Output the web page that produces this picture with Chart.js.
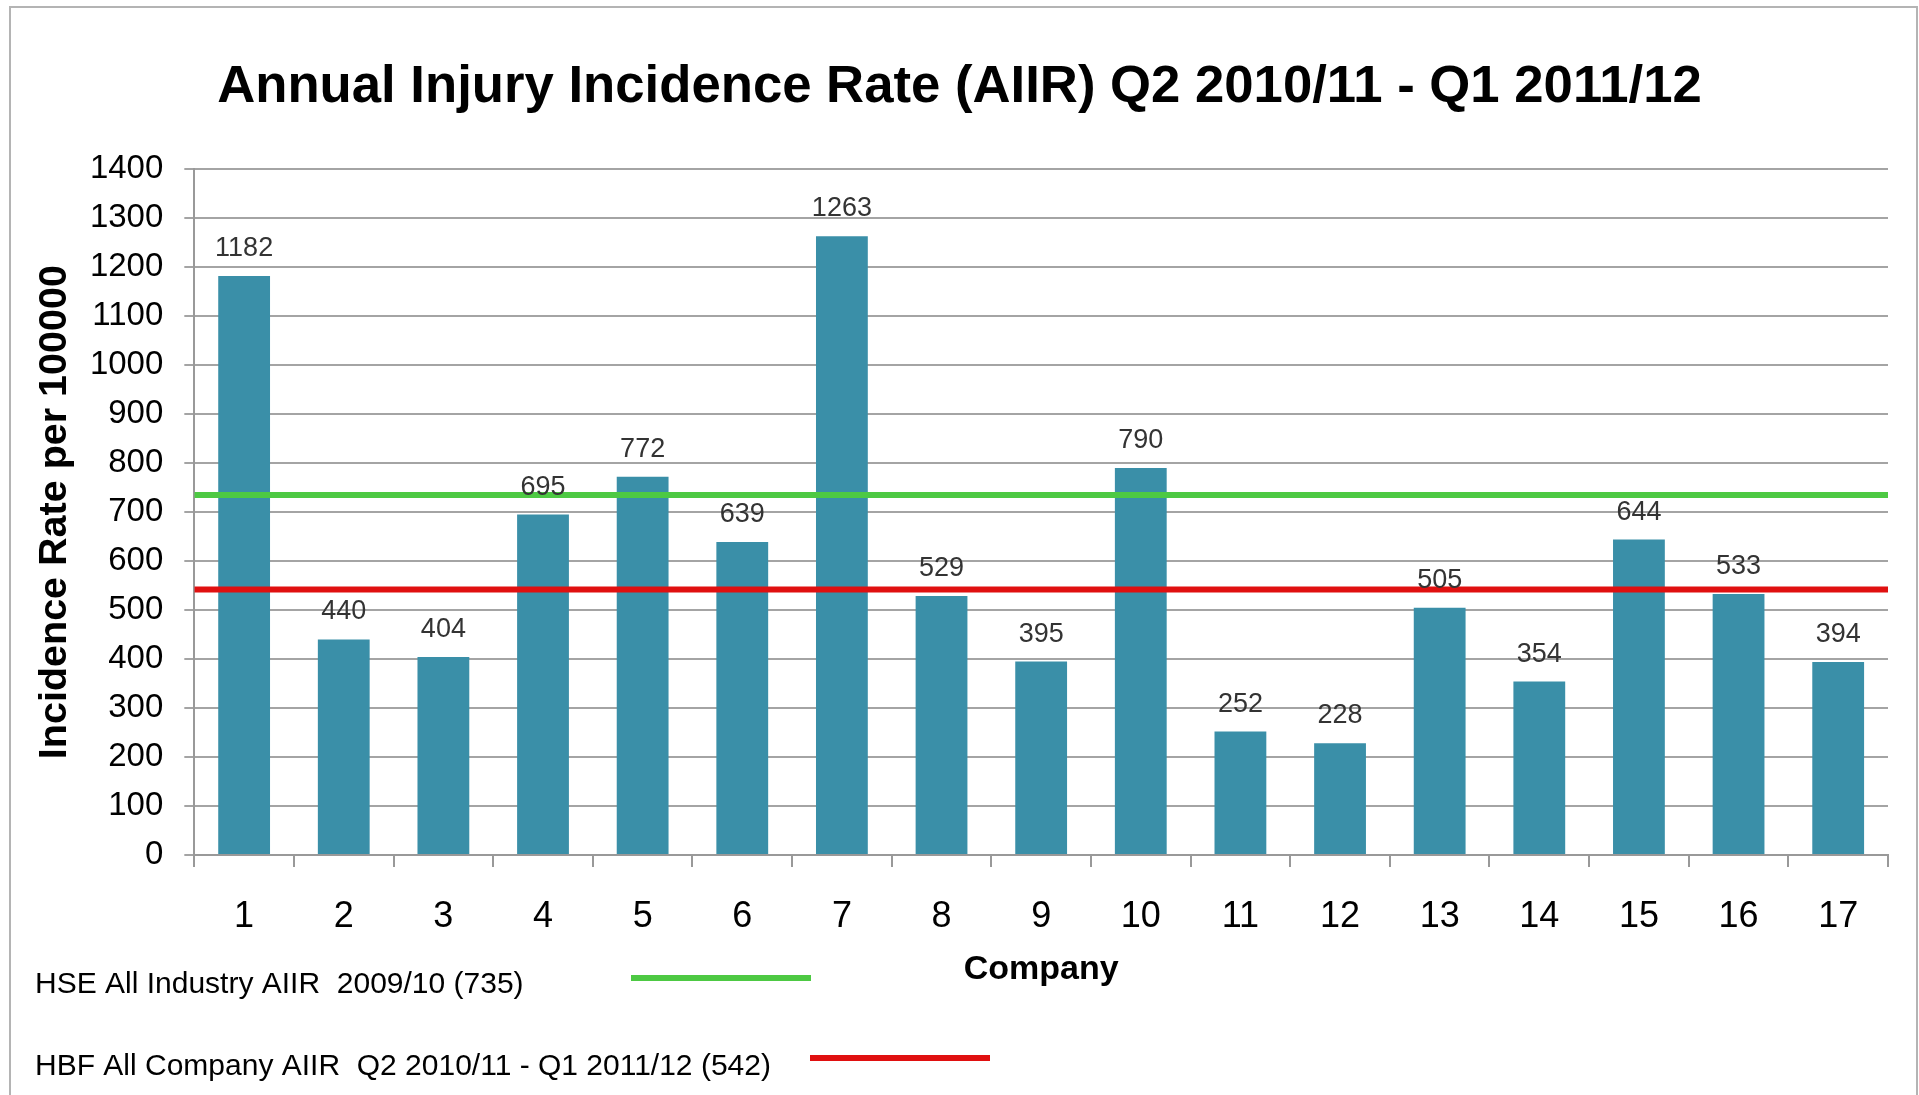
<!DOCTYPE html>
<html>
<head>
<meta charset="utf-8">
<script src="https://cdn.jsdelivr.net/npm/chart.js@4.4.0/dist/chart.umd.min.js"></script>
<style>
  html, body { margin: 0; padding: 0; background: #fff; }
  #frame { position: absolute; left: 9px; top: 6px; width: 1909px; height: 1200px; border: 2px solid #b4b4b4; box-sizing: border-box; }
  #wrap { position: absolute; left: 0; top: 0; width: 1919px; height: 1095px; }
</style>
</head>
<body>
<div id="frame"></div>
<div id="wrap"><canvas id="chart"></canvas></div>
<script>
var companies = ['1', '2', '3', '4', '5', '6', '7', '8', '9', '10', '11', '12', '13', '14', '15', '16', '17'];
var rates = [1182, 440, 404, 695, 772, 639, 1263, 529, 395, 790, 252, 228, 505, 354, 644, 533, 394];

var hseLabel = 'HSE All Industry AIIR  2009/10 (735)';
var hseRate = [735, 735];
var hbfLabel = 'HBF All Company AIIR  Q2 2010/11 - Q1 2011/12 (542)';
var hbfRate = [542, 542];

var yMax = 1400;
var yStep = 100;

var fontFamily = '"Liberation Sans", Arial, Helvetica, sans-serif';

function spanPoints(values) {
    // run the reference line across the whole plot width (hidden 0..1 axis)
    return values.map(function(v, i) {
        return { x: i, y: v };
    });
}

var barLabels = {
    id: 'barLabels',
    afterDatasetsDraw: function(chart) {
        var ctx = chart.ctx;
        var meta = chart.getDatasetMeta(0);
        ctx.save();
        ctx.font = '27px ' + fontFamily;
        ctx.fillStyle = '#333';
        ctx.textAlign = 'center';
        ctx.textBaseline = 'alphabetic';
        meta.data.forEach(function(bar, i) {
            ctx.fillText(rates[i], bar.x, bar.y - 20);
        });
        ctx.restore();
    }
};

var bottomLegend = {
    id: 'bottomLegend',
    afterDraw: function(chart) {
        var ctx = chart.ctx;
        var rows = [
            { ds: chart.data.datasets[1], base: chart.height - 102, lineY: chart.height - 117, lineX: 631 },
            { ds: chart.data.datasets[2], base: chart.height - 20, lineY: chart.height - 37, lineX: 810 }
        ];
        ctx.save();
        ctx.font = '30px ' + fontFamily;
        ctx.fillStyle = '#000';
        ctx.textAlign = 'left';
        ctx.textBaseline = 'alphabetic';
        rows.forEach(function(r) {
            ctx.fillText(r.ds.label, 35, r.base);
            ctx.strokeStyle = r.ds.borderColor;
            ctx.lineWidth = 6;
            ctx.beginPath();
            ctx.moveTo(r.lineX, r.lineY);
            ctx.lineTo(r.lineX + 180, r.lineY);
            ctx.stroke();
        });
        ctx.restore();
    }
};

var ctx = document.getElementById('chart').getContext('2d');
var myChart = new Chart(ctx, {
    type: 'bar',
    data: {
        labels: companies,
        datasets: [
            {
                label: 'AIIR',
                data: rates,
                backgroundColor: '#3A8FA8',
                barPercentage: 0.52,
                categoryPercentage: 1.0,
                grouped: false,
                order: 2
            },
            {
                type: 'line',
                label: hseLabel,
                data: spanPoints(hseRate),
                xAxisID: 'xr',
                borderColor: '#4DC943',
                borderWidth: 6,
                pointRadius: 0,
                fill: false,
                order: 1
            },
            {
                type: 'line',
                label: hbfLabel,
                data: spanPoints(hbfRate),
                xAxisID: 'xr',
                borderColor: '#E01010',
                borderWidth: 6,
                pointRadius: 0,
                fill: false,
                order: 0
            }
        ]
    },
    options: {
        responsive: true,
        maintainAspectRatio: false,
        animation: false,
        layout: {
            padding: { top: 32, left: 31, right: 31, bottom: 105 }
        },
        plugins: {
            legend: { display: false },
            tooltip: { enabled: false },
            title: {
                display: true,
                text: 'Annual Injury Incidence Rate (AIIR) Q2 2010/11 - Q1 2011/12',
                color: '#000',
                font: { family: fontFamily, size: 52.7, weight: 'bold' },
                padding: { top: 24, bottom: 50 }
            }
        },
        scales: {
            x: {
                grid: {
                    drawOnChartArea: false,
                    drawTicks: true,
                    tickLength: 12,
                    color: '#999',
                    lineWidth: 2
                },
                border: { display: true, color: '#999', width: 2 },
                ticks: {
                    color: '#000',
                    padding: 28,
                    font: { family: fontFamily, size: 36 }
                },
                title: {
                    display: true,
                    text: 'Company',
                    color: '#000',
                    font: { family: fontFamily, size: 34, weight: 'bold' },
                    padding: { top: -17, bottom: 0 }
                }
            },
            xr: {
                type: 'linear',
                display: false,
                offset: false,
                min: 0,
                max: 1
            },
            y: {
                min: 0,
                max: yMax,
                grid: {
                    color: '#a4a4a4',
                    lineWidth: 2,
                    drawTicks: true,
                    tickLength: 10
                },
                border: { display: true, color: '#999', width: 2 },
                ticks: {
                    stepSize: yStep,
                    color: '#000',
                    padding: 21,
                    font: { family: fontFamily, size: 33 },
                    callback: function(value) {
                        return String(value);
                    }
                },
                title: {
                    display: true,
                    text: 'Incidence Rate per 100000',
                    color: '#000',
                    font: { family: fontFamily, size: 39.5, weight: 'bold' },
                    padding: { top: 0, bottom: -9.5 }
                }
            }
        }
    },
    plugins: [barLabels, bottomLegend]
});
</script>
</body>
</html>
